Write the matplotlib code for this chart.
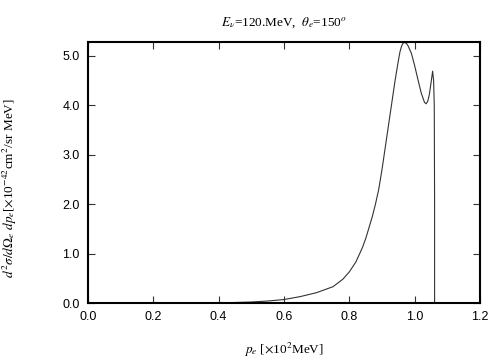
import matplotlib
matplotlib.use("Agg")
import matplotlib.pyplot as plt

# data
p_e = [0.40, 0.45, 0.50, 0.55, 0.60, 0.65, 0.70, 0.75, 0.78, 0.80, 0.82, 0.84,
       0.85, 0.86, 0.87, 0.88, 0.89, 0.90, 0.91, 0.92, 0.93, 0.94, 0.95, 0.955,
       0.96, 0.965, 0.97, 0.975, 0.98, 0.99, 1.00, 1.01, 1.02, 1.03, 1.035,
       1.04, 1.045, 1.05, 1.055, 1.058, 1.060, 1.061, 1.061]
sigma = [0.0, 0.01, 0.02, 0.04, 0.07, 0.13, 0.21, 0.33, 0.48, 0.63, 0.83, 1.12,
         1.30, 1.52, 1.74, 2.00, 2.30, 2.70, 3.15, 3.60, 4.05, 4.50, 4.90, 5.08,
         5.20, 5.26, 5.27, 5.25, 5.20, 5.05, 4.80, 4.52, 4.25, 4.06, 4.03,
         4.08, 4.22, 4.45, 4.69, 4.50, 4.00, 2.00, 0.0]
x_ticks = [0.0, 0.2, 0.4, 0.6, 0.8, 1.0, 1.2]
y_ticks = [0.0, 1.0, 2.0, 3.0, 4.0, 5.0]

plt.rcParams['mathtext.fontset'] = 'stix'
serif = 'Liberation Serif'
sans = 'Liberation Sans'

fig = plt.figure(figsize=(5.04, 3.6), dpi=100)
ax = fig.add_axes([88/504, (360-303)/360, (480-88)/504, (303-42)/360])
ax.plot(p_e, sigma, color='#333333', lw=0.8)
ax.set_xlim(0, 1.2)
ax.set_ylim(0, 5.28)
ax.set_xticks(x_ticks)
ax.set_yticks(y_ticks)
ax.set_xticklabels([f"{v:.1f}" for v in x_ticks], family=sans, fontsize=9)
ax.set_yticklabels([f"{v:.1f}" for v in y_ticks], family=sans, fontsize=9)
ax.tick_params(direction='in', top=True, right=True, length=5, width=0.8,
               pad=6, color='#333333')
for s in ax.spines.values():
    s.set_linewidth(1.5)

ax.set_title(r'$E_\nu$=120.MeV,  $\theta_e$=150$^o$', family=serif,
             fontsize=9.5, pad=12)
ax.set_xlabel(r'$p_e$ [$\times$10$^2$MeV]', family=serif, fontsize=9.5,
              labelpad=13)
ax.set_ylabel(r'$d^2\sigma/d\Omega_e\ dp_e$[$\times$10$^{-42}$cm$^2$/sr MeV]',
              family=serif, fontsize=9.5, labelpad=14)
ax.yaxis.set_label_coords(-0.175, 0.44)

fig.savefig('out.png', dpi=100)
